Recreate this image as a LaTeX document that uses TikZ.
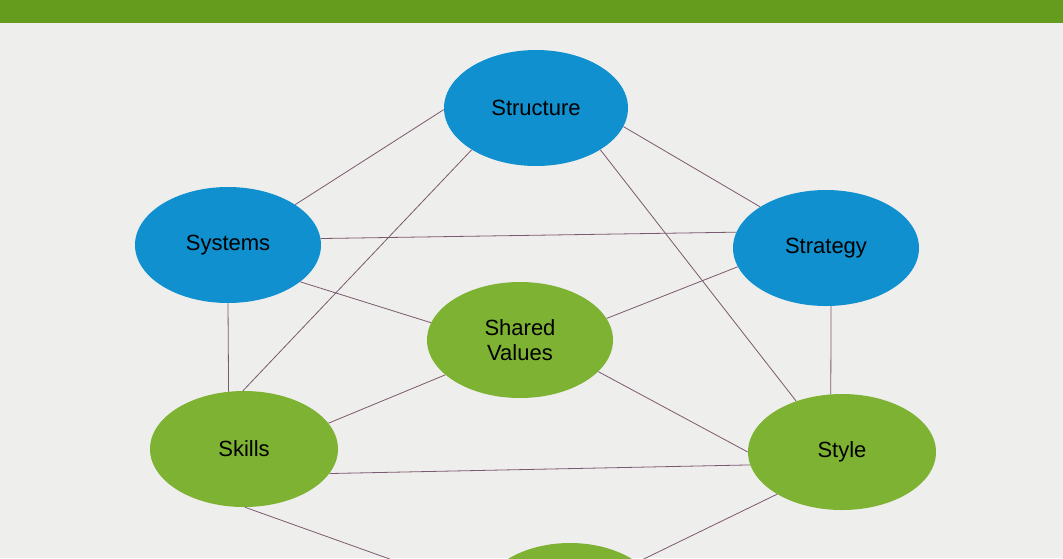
\documentclass[tikz,border=0pt]{standalone}
\usepackage{fontspec}
\setmainfont{Liberation Sans}
\usetikzlibrary{shapes.geometric}
\definecolor{bg}{HTML}{EEEEEC}
\definecolor{bar}{HTML}{669C1E}
\definecolor{blu}{HTML}{1090CE}
\definecolor{grn}{HTML}{7DB233}
\definecolor{ln}{HTML}{7A5A6E}
\begin{document}
\begin{tikzpicture}[x=0.75pt,y=-0.75pt,
  el/.style={ellipse,draw=none,inner sep=0pt,font=\fontsize{16.5}{19}\selectfont,align=center},
  bl/.style={el,fill=blu,minimum width=186*0.75pt,minimum height=116*0.75pt},
  gr/.style={el,fill=grn,minimum width=188*0.75pt,minimum height=116*0.75pt},
  cn/.style={draw=ln,line width=0.6pt}]
\useasboundingbox (0,0) rectangle (1063,558);
\clip (0,0) rectangle (1063,558);
\fill[bg] (0,0) rectangle (1063,558);
\fill[bar] (0,0) rectangle (1063,23);
\node[bl,minimum width=184*0.75pt] (structure) at (536,108) {Structure};
\node[bl] (systems) at (228,245) {Systems};
\node[bl] (strategy) at (826,248) {Strategy};
\node[gr,minimum width=186*0.75pt] (shared) at (520,340) {Shared\\Values};
\node[gr] (skills) at (244,449) {Skills};
\node[gr] (style) at (842,452) {Style};
\node[gr,minimum width=180*0.75pt] (bottom) at (570,601) {};
\draw[cn] (structure.181) -- (systems.31);
\draw[cn] (structure.-12) -- (strategy.148);
\draw[cn] (structure.213) -- (skills.91);
\draw[cn] (structure.-33) -- (style.132);
\draw[cn] (systems.4) -- (strategy.170);
\draw[cn] (systems.-27) -- (shared.169);
\draw[cn] (systems.-90) -- (skills.105);
\draw[cn] (strategy.192) -- (shared.14);
\draw[cn] (strategy.-85) -- (style.101);
\draw[cn] (shared.205) -- (skills.17);
\draw[cn] (shared.-22) -- (style.180);
\draw[cn] (skills.-16) -- (style.188);
\draw[cn] (skills.-89) -- (bottom.174);
\draw[cn] (style.213) -- (bottom.30);
\end{tikzpicture}
\end{document}
